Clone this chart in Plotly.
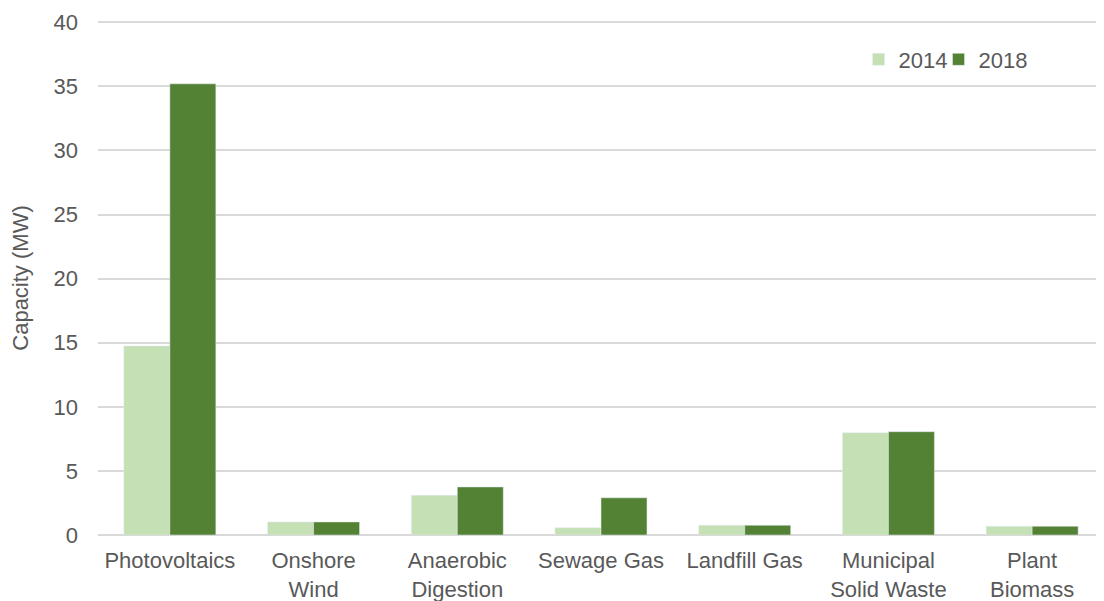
import plotly.graph_objects as go

categories = ["Photovoltaics", "Onshore<br>Wind", "Anaerobic<br>Digestion", "Sewage Gas",
              "Landfill Gas", "Municipal<br>Solid Waste", "Plant<br>Biomass"]
values_2014 = [14.75, 1.02, 3.1, 0.57, 0.76, 7.98, 0.68]
values_2018 = [35.2, 1.02, 3.75, 2.9, 0.76, 8.06, 0.68]
y_ticks = [0, 5, 10, 15, 20, 25, 30, 35, 40]

fig = go.Figure()
fig.add_trace(go.Bar(name="2014", x=categories, y=values_2014, marker_color="#c5e0b4",
                     legend="legend", showlegend=True))
fig.add_trace(go.Bar(name="2018", x=categories, y=values_2018, marker_color="#548235",
                     legend="legend2", showlegend=True))

font_family = "Liberation Sans, Arial, sans-serif"
grey = "#595959"
legend_common = dict(orientation="h", y=0.925, xanchor="left", yanchor="middle",
                     font=dict(size=22, color=grey), itemwidth=30,
                     bgcolor="rgba(0,0,0,0)")
fig.update_layout(
    width=1096, height=593,
    showlegend=True,
    barmode="group", bargap=0.36, bargroupgap=0,
    plot_bgcolor="white", paper_bgcolor="white",
    margin=dict(l=90, r=0, t=13.2, b=66, autoexpand=False),
    font=dict(family=font_family, size=22, color=grey),
    legend=dict(x=0.756, **legend_common),
    legend2=dict(x=0.8355, **legend_common),
    xaxis=dict(showgrid=False, showline=False, ticks="", ticklabelstandoff=10,
               tickfont=dict(size=22, color=grey)),
    yaxis=dict(range=[0, 40.1], tickvals=y_ticks, showgrid=True, gridcolor="#d9d9d9",
               gridwidth=1.5, zeroline=True, zerolinecolor="#d9d9d9", zerolinewidth=1.5,
               ticks="", ticklabelstandoff=19,
               tickfont=dict(size=22, color=grey),
               title=dict(text="Capacity (MW)", font=dict(size=22, color=grey), standoff=20)),
)
fig.write_html("out.html")
